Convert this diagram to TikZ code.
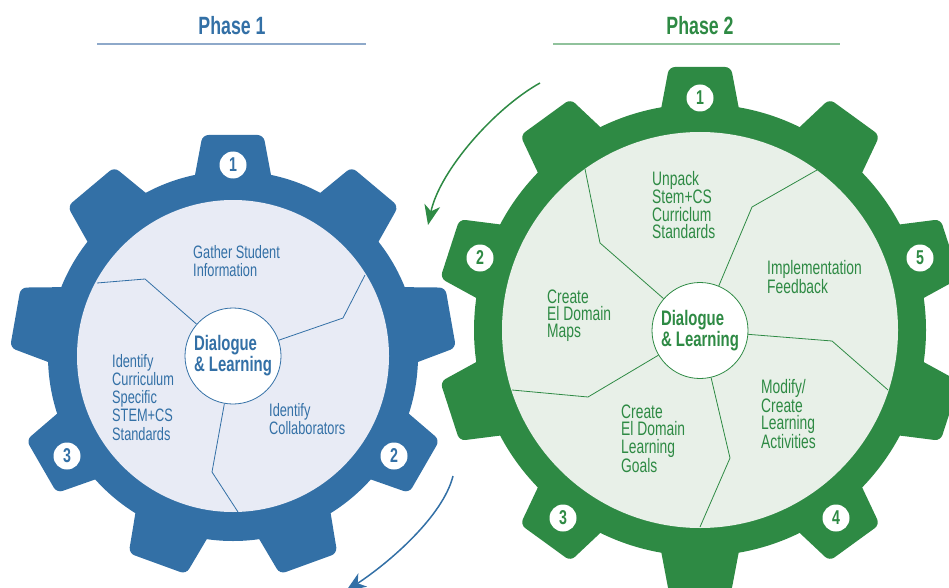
\documentclass[tikz,border=0pt]{standalone}
\usepackage{fontspec}
\setmainfont{Liberation Sans}[FakeStretch=0.71]
\usetikzlibrary{arrows.meta}
\definecolor{bgear}{HTML}{3370A6}
\definecolor{bdisc}{HTML}{E8EBF5}
\definecolor{bline}{HTML}{8EA9CA}
\definecolor{ggear}{HTML}{2E8A44}
\definecolor{gdisc}{HTML}{E8F0E8}
\definecolor{gline}{HTML}{90C29C}
\begin{document}
\begin{tikzpicture}[x=1pt,y=-1pt,
  btxt/.style={align=left, anchor=base west, inner sep=0pt, text=bgear, font=\fontsize{18}{18.3}\selectfont},
  gtxt/.style={align=left, anchor=base west, inner sep=0pt, text=ggear, font=\fontsize{19.5}{17.3}\selectfont},
  hub/.style={circle, minimum size=96pt, inner sep=0pt, fill=white, draw=#1, line width=0.8pt, align=left, text=#1, font=\bfseries\fontsize{21}{21}\selectfont},
  badge/.style={circle, minimum size=27pt, inner sep=0pt, fill=white, text=#1, font=\bfseries\fontsize{20}{20}\selectfont},
  divider/.style={draw=#1, line width=0.8pt},
  title/.style={anchor=base, inner sep=0pt, text=#1, font=\bfseries\fontsize{25}{25}\selectfont},
  arr/.style={draw=#1, line width=1.5pt, -{Stealth[length=20pt, width=16pt, inset=6pt]}}
]
\useasboundingbox (0,0) rectangle (949,588);
\clip (0,0) rectangle (949,588);

% ---------- titles ----------
\node[title=bgear] (t1) at (232,35) {Phase 1};
\node[title=ggear] (t2) at (700,35) {Phase 2};
\draw[bline, line width=1.5pt] (97,44) -- (366,44);
\draw[gline, line width=1.5pt] (553,44) -- (840,44);

% ---------- blue gear ----------
\fill[bgear] (233,356) circle (185);
\foreach \a in {90,130,...,410}
  \fill[bgear, shift={(233,356)}, rotate=\a, rounded corners=6pt]
    (165,-41) -- (221,-30.5) -- (221,30.5) -- (165,41) -- cycle;
\fill[bdisc] (233,356) circle (156);
\node[hub=bgear] (bc) at (233,356) {Dialogue\\\& Learning};
\draw[divider=bgear] (97,283) -- (145,279) -- (bc);
\draw[divider=bgear] (365,275) -- (343,318) -- (bc);
\draw[divider=bgear] (238,512) -- (212,472) -- (bc);
\node[badge=bgear] (b1) at (233,165) {1};
\node[badge=bgear] (b2) at (394,456) {2};
\node[badge=bgear] (b3) at (67,456) {3};
% base anchor = baseline of the last line
\node[btxt] (bgather) at (193,276.6) {Gather Student\\Information};
\node[btxt] (bident) at (112,440.2) {Identify\\Curriculum\\Specific\\STEM+CS\\Standards};
\node[btxt] (bcollab) at (269,434.3) {Identify\\Collaborators};

% ---------- green gear ----------
\fill[ggear] (700,330) circle (226);
\foreach \a in {90,126,...,414}
  \fill[ggear, shift={(700,330)}, rotate=\a, rounded corners=6pt]
    (205,-42) -- (263,-31) -- (263,31) -- (205,42) -- cycle;
\fill[gdisc] (700,330) circle (198);
\node[hub=ggear] (gc) at (700,330.5) {Dialogue\\\& Learning};
\draw[divider=ggear] (585,169) -- (600,243) -- (gc);
\draw[divider=ggear] (817,170) -- (752,207) -- (gc);
\draw[divider=ggear] (888,390) -- (832,341) -- (gc);
\draw[divider=ggear] (700,527) -- (730,458) -- (gc);
\draw[divider=ggear] (512,390) -- (588,397) -- (gc);
\node[badge=ggear] (g1) at (700,98) {1};
\node[badge=ggear] (g2) at (480,258) {2};
\node[badge=ggear] (g3) at (563,518) {3};
\node[badge=ggear] (g4) at (836,518) {4};
\node[badge=ggear] (g5) at (920,258) {5};
\node[gtxt] (gunpack) at (652,238.4) {Unpack\\Stem+CS\\Curriclum\\Standards};
\node[gtxt] (gimpl) at (767,293.3) {Implementation\\Feedback};
\node[gtxt] (gmaps) at (547,337.6) {Create\\El Domain\\Maps};
\node[gtxt] (ggoals) at (621,472.4) {Create\\El Domain\\Learning\\Goals};
\node[gtxt] (gmodify) at (761,448.9) {Modify/\\Create\\Learning\\Activities};

% ---------- arrows ----------
\coordinate (ga0) at (540,83);
\coordinate (ga1) at (428,225);
\draw[arr=ggear] (ga0) .. controls (495,108) and (440,170) .. (ga1);
\coordinate (ba0) at (453,476);
\coordinate (ba1) at (346,591);
\draw[arr=bgear] (ba0) .. controls (443,516) and (390,562) .. (ba1);
\end{tikzpicture}
\end{document}
